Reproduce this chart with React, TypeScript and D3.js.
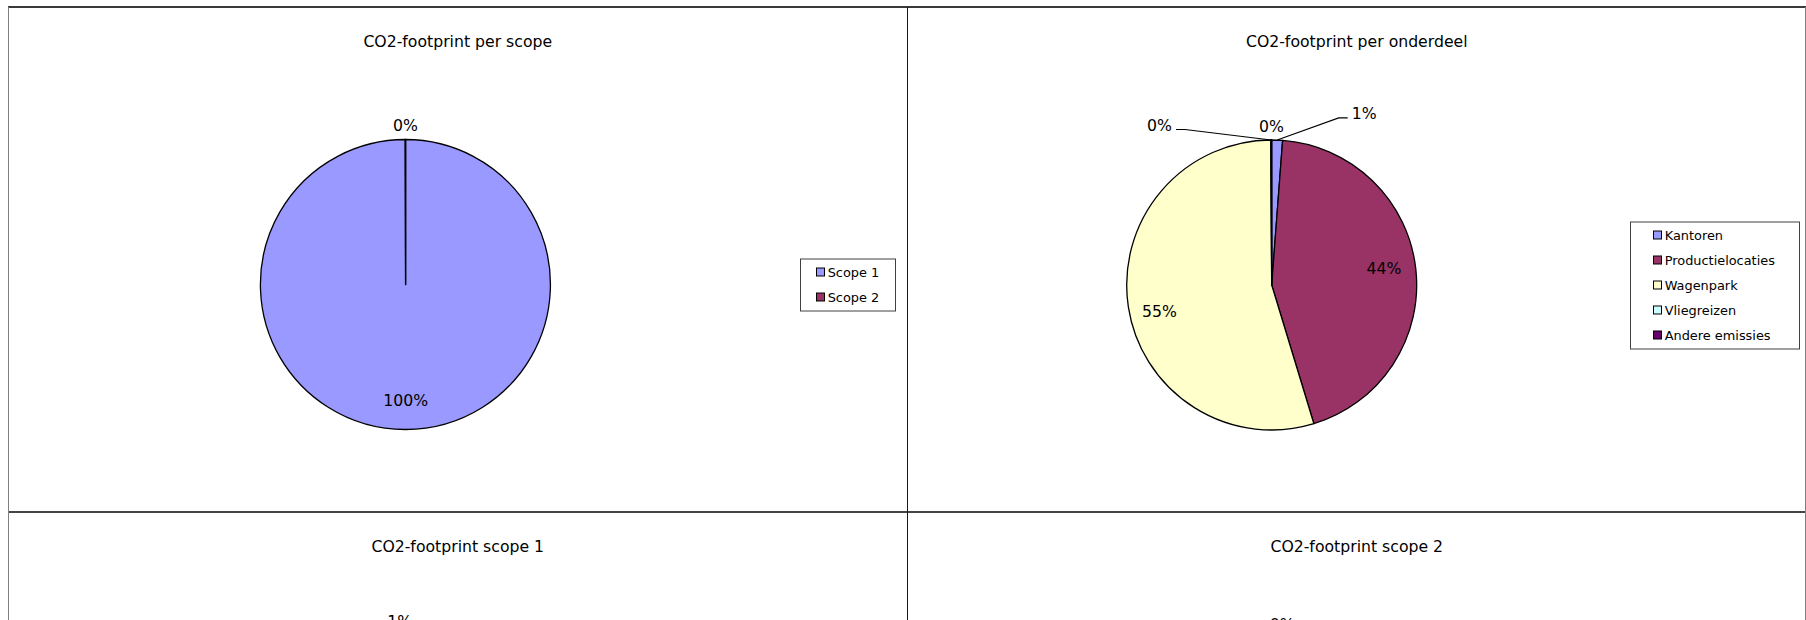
import React from "react";
import * as d3 from "d3";

// chart data
const chartTitles = [
    "CO2-footprint per scope",
    "CO2-footprint per onderdeel",
    "CO2-footprint scope 1",
    "CO2-footprint scope 2",
];

const scopeCategories = ["Scope 1", "Scope 2"];
const scopeValues = [99.96, 0.04];

const onderdeelCategories = ["Kantoren", "Productielocaties", "Wagenpark", "Vliegreizen", "Andere emissies"];
const onderdeelValues = [1.2, 44.1, 54.6, 0.06, 0.04];

const scope1Categories = ["Productielocaties", "Wagenpark", "Kantoren"];
const scope1Values = [44.1, 54.7, 1.2];

const scope2Categories = ["Kantoren", "Productielocaties"];
const scope2Values = [0.3, 99.7];

// old excel palette
const excelColors = ["#9999FF", "#993366", "#FFFFCC", "#CCFFFF", "#660066"];

const FONT = "'DejaVu Sans', Verdana, sans-serif";
const W = 1806;
const H = 620;

interface IShift {
    dx: number;
    dy: number;
    leader: boolean;
}

interface IPieProps {
    title: string;
    categories: string[];
    values: number[];
    px: number;
    py: number;
    pw: number;
    cx: number;
    cy: number;
    r: number;
    legendX: number;
    legendW: number;
    swatchOff: number;
    shifts?: {[key: number]: IShift};
}

function PieChart(props: IPieProps) {
    const {title, categories, values, px, py, pw, cx, cy, r, legendX, legendW, swatchOff} = props;
    const shifts = props.shifts || {};
    const total = d3.sum(values);

    const pie = d3.pie<number>().sort(null).value(d => d);
    const arcs = pie(values);
    const arc = d3.arc<d3.PieArcDatum<number>>().innerRadius(0).outerRadius(r);
    const color = d3.scaleOrdinal<string, string>().domain(categories).range(excelColors);

    const rowH = 25;
    const legendH = categories.length * rowH + 2;
    const legendY = cy - legendH / 2;

    const labels = arcs.map((a, i) => {
        const pct = (a.value / total) * 100;
        const txt = Math.round(pct) + "%";
        const mid = (a.startAngle + a.endAngle) / 2;
        const inside = pct >= 3;
        const lr = inside ? r * 0.8 : r + 13.7;
        let x = cx + Math.sin(mid) * lr;
        let y = cy - Math.cos(mid) * lr;
        const s = shifts[i];
        if (s && s.leader) {
            const ex = cx + Math.sin(mid) * r;
            const ey = cy - Math.cos(mid) * r;
            const lx = x + s.dx;
            const ly = y + s.dy;
            const sign = s.dx > 0 ? 1 : -1;
            const pts: [number, number][] = [
                [ex, ey],
                [lx - sign * 13, ly + 4.5],
                [lx - sign * 4, ly + 4.5],
            ];
            return (
                <g key={i}>
                    <path d={d3.line()(pts) || ""} fill="none" stroke="#000" strokeWidth={1.1} />
                    <text x={lx} y={ly} dy="0.36em" textAnchor={sign > 0 ? "start" : "end"}>{txt}</text>
                </g>
            );
        }
        if (s) {
            x += s.dx;
            y += s.dy;
        }
        return <text key={i} x={x} y={y} dy="0.36em" textAnchor="middle">{txt}</text>;
    });

    return (
        <g fontFamily={FONT} fill="#000">
            <text x={px + pw / 2} y={py + 39.6} textAnchor="middle" fontSize={15.7}>{title}</text>
            <g transform={`translate(${cx},${cy})`}>
                {arcs.map((a, i) => (
                    <path key={i} d={arc(a) || ""} fill={color(categories[i])}
                          stroke="#000" strokeWidth={1.3} strokeLinejoin="round" />
                ))}
            </g>
            <g fontSize={15.7}>{labels}</g>
            <rect x={legendX + 0.5} y={legendY + 0.5} width={legendW} height={legendH}
                  fill="#fff" stroke="#404040" strokeWidth={1} />
            {categories.map((c, i) => {
                const base = legendY + 18 + i * rowH;
                return (
                    <g key={c}>
                        <rect x={legendX + swatchOff + 0.5} y={base - 8.5} width={8} height={8}
                              fill={color(c)} stroke="#000" strokeWidth={1} />
                        <text x={legendX + swatchOff + 11.7} y={base} fontSize={12.9}>{c}</text>
                    </g>
                );
            })}
        </g>
    );
}

export default function App() {
    const left = 8;
    const mid = 907.5;
    const top = 7;
    const hmid = 512;

    return (
        <div style={{position: "fixed", left: 0, top: 0, width: W, height: H, overflow: "hidden", background: "#fff"}}>
            <svg width={W} height={H} style={{display: "block"}}>
                <rect width={W} height={H} fill="#fff" />
                <PieChart title={chartTitles[0]} categories={scopeCategories} values={scopeValues}
                          px={left} py={top} pw={mid - left} cx={405.6} cy={284.5} r={145}
                          legendX={800} legendW={95} swatchOff={16} />
                <PieChart title={chartTitles[1]} categories={onderdeelCategories} values={onderdeelValues}
                          px={mid} py={top} pw={W - mid} cx={1271.7} cy={285} r={145}
                          legendX={1630} legendW={169} swatchOff={23}
                          shifts={{
                              0: {dx: 74, dy: -13, leader: true},
                              1: {dx: -3, dy: -3.6, leader: false},
                              2: {dx: 2.5, dy: 8.6, leader: false},
                              3: {dx: -99, dy: -1.3, leader: true},
                          }} />
                <PieChart title={chartTitles[2]} categories={scope1Categories} values={scope1Values}
                          px={left} py={hmid} pw={mid - left} cx={405.6} cy={780} r={145}
                          legendX={800} legendW={130} swatchOff={16} />
                <PieChart title={chartTitles[3]} categories={scope2Categories} values={scope2Values}
                          px={mid} py={hmid} pw={W - mid} cx={1271.7} cy={780} r={145}
                          legendX={1630} legendW={150} swatchOff={23}
                          shifts={{0: {dx: 9, dy: 3.3, leader: false}}} />

                {/* frame */}
                <line x1={left} x2={W} y1={top} y2={top} stroke="#3a3a3a" strokeWidth={2} />
                <line x1={left} x2={W} y1={hmid} y2={hmid} stroke="#444" strokeWidth={2} />
                <line x1={left + 0.5} x2={left + 0.5} y1={top} y2={H} stroke="#808080" strokeWidth={1} />
                <line x1={mid} x2={mid} y1={top} y2={H} stroke="#1a1a1a" strokeWidth={1} />
                <line x1={W - 0.5} x2={W - 0.5} y1={top} y2={H} stroke="#808080" strokeWidth={1} />
            </svg>
        </div>
    );
}
